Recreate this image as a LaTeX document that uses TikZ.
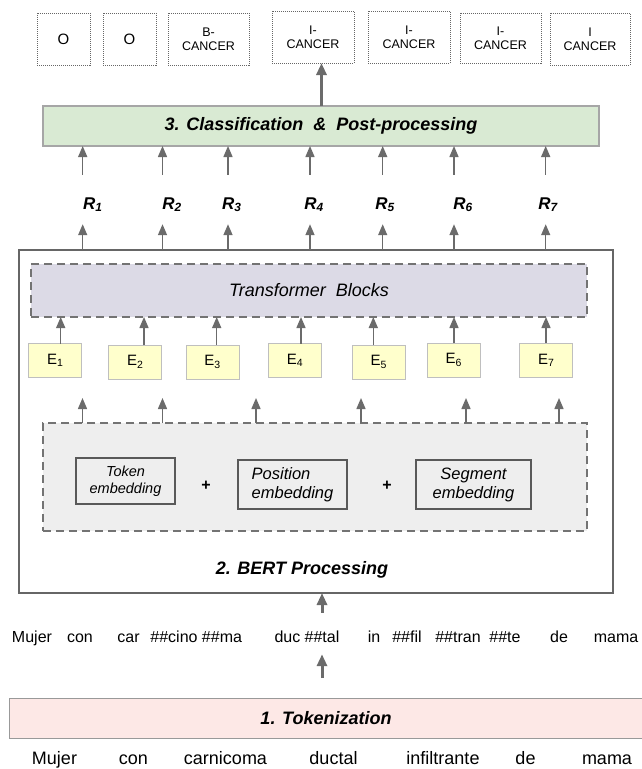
\documentclass[tikz,border=0pt]{standalone}
\usepackage{fontspec}
\setmainfont{Liberation Sans}
\usetikzlibrary{arrows.meta}
\definecolor{clsgreen}{HTML}{D9EAD3}
\definecolor{tfpurple}{HTML}{DCDAE6}
\definecolor{embgray}{HTML}{EEEEEE}
\definecolor{vecyellow}{HTML}{FFFFCC}
\definecolor{tokpink}{HTML}{FDE8E6}
\definecolor{arrgray}{HTML}{6B6B6B}

\begin{document}
\begin{tikzpicture}[x=1pt, y=-1pt,
          tag box/.style={draw=black!60, dash pattern=on 1pt off 1pt, line width=0.8pt, inner sep=0pt, outer sep=0pt, align=center, font=\fontsize{12.5}{14}\selectfont},
          stage box/.style={draw=black!35, line width=1.2pt, inner sep=0pt, outer sep=0pt, font=\fontsize{18}{18}\selectfont\bfseries\itshape},
          dash box/.style={draw=black!55, line width=1.8pt, dash pattern=on 8pt off 5pt, inner sep=0pt, outer sep=0pt},
          emb part/.style={draw=black!65, fill=embgray, line width=1.1pt, inner sep=0pt, outer sep=0pt, font=\itshape},
          evec/.style={draw=black!25, fill=vecyellow, line width=1pt, minimum width=53pt, minimum height=34pt, inner sep=0pt, outer sep=0pt, font=\fontsize{15}{15}\selectfont},
          rlab/.style={font=\fontsize{17}{17}\selectfont\bfseries\itshape, text height=24pt, text depth=4.5pt, inner ysep=10.25pt, inner xsep=0pt},
          tokword/.style={font=\fontsize{16}{16}\selectfont, text height=12pt, text depth=0pt, inner sep=2pt},
          srcword/.style={font=\fontsize{18}{18}\selectfont, text height=13pt, text depth=4pt, inner sep=0pt},
          arr/.style={draw=arrgray, line width=1.5pt, -{Triangle[length=11pt,width=9pt]}},
          big arr/.style={draw=arrgray, line width=3pt, -{Triangle[length=12pt,width=10pt]}}]
          \useasboundingbox (0,0) rectangle (641,769);
          % output tags
          \node[tag box, minimum width=53pt, minimum height=52pt] (o1) at (63.5,39) {\fontsize{15}{15}\selectfont O};
          \node[tag box, minimum width=53pt, minimum height=52pt] (o2) at (129.5,39) {\fontsize{15}{15}\selectfont O};
          \node[tag box, minimum width=81pt, minimum height=52pt] (o3) at (208.5,39) {B-\\CANCER};
          \node[tag box, minimum width=82pt, minimum height=52pt] (o4) at (313,37) {I-\\CANCER};
          \node[tag box, minimum width=82pt, minimum height=52pt] (o5) at (409,37) {I-\\CANCER};
          \node[tag box, minimum width=81pt, minimum height=50pt] (o6) at (500.5,38) {I-\\CANCER};
          \node[tag box, minimum width=80pt, minimum height=52pt] (o7) at (590,39) {I\\CANCER};
          % stage 3
          \node[stage box, fill=clsgreen, minimum width=556pt, minimum height=40pt] (cls) at (321,126) {3. Classification~~\&~~Post-processing};
          \coordinate (mid) at (321.5,0);
          \draw[big arr] (cls.north -| mid) -- (o4.south -| mid);
          % stage 2
          \node[draw=black!60, line width=2.5pt, minimum width=594pt, minimum height=343pt, inner sep=0pt, outer sep=0pt] (bert) at (316,421.5) {};
          \node[font=\fontsize{18}{18}\selectfont\bfseries\itshape] (bertlab) at (302,570) {2. BERT Processing};
          \node[dash box, fill=tfpurple, minimum width=556pt, minimum height=53pt, font=\fontsize{18}{18}\selectfont\itshape] (tb) at (309,290.5) {Transformer~~Blocks};
          \node[dash box, fill=embgray, minimum width=544pt, minimum height=108pt] (emb) at (315,477) {};
          \node[emb part, minimum width=99pt, minimum height=46pt, align=center, font=\fontsize{14.5}{17.3}\selectfont\itshape] (tokemb) at (125.5,481) {Token\\embedding};
          \node[emb part, minimum width=109pt, minimum height=49pt, align=left, font=\fontsize{16.5}{19}\selectfont\itshape] (posemb) at (292.5,484.5) {Position\\embedding};
          \node[emb part, minimum width=115pt, minimum height=49pt, align=center, font=\fontsize{16.5}{19}\selectfont\itshape] (segemb) at (473.5,484.5) {Segment\\embedding};
          \node[font=\fontsize{16}{16}\selectfont\bfseries] (plus1) at (206,486) {+};
          \node[font=\fontsize{16}{16}\selectfont\bfseries] (plus2) at (387,486) {+};
          \foreach \i/\ex/\ey/\ax in {1/55.3/360.5/60.7, 2/135.2/362/144, 3/212.5/362/216.7, 4/295/360.5/301,
                                       5/378.8/362/373.3, 6/453.7/360/454, 7/546.3/360/546}{
              \node[evec] (E\i) at (\ex,\ey) {E\textsubscript{\i}};
              \coordinate (ea\i) at (\ax,0);
              \draw[arr] (E\i.north -| ea\i) -- (tb.south -| ea\i);
          }
          \foreach \x [count=\i] in {82.5,162.5,256,361,466,559}{
              \coordinate (ee\i) at (\x,398);
              \draw[arr] (emb.north -| ee\i) -- (ee\i);
          }
          \foreach \i/\ax/\lx in {1/82.7/92.7, 2/162.5/172, 3/228/231.7, 4/310/314, 5/382.7/385, 6/454/463, 7/545.7/548}{
              \node[rlab] (R\i) at (\lx,199.5) {R\textsubscript{\i}};
              \coordinate (ra\i) at (\ax,0);
              \draw[arr] (bert.north -| ra\i) -- (R\i.south -| ra\i);
              \draw[arr] (R\i.north -| ra\i) -- (cls.south -| ra\i);
          }
          % stage 1
          \foreach \x/\w [count=\i] in {32/Mujer, 80/con, 128.5/car, 174/\#\#cino, 222/\#\#ma, 287.5/duc, 322/\#\#tal,
                                        374/in, 407/\#\#fil, 458/\#\#tran, 505/\#\#te, 559/de, 616/mama}{
              \node[tokword] (w\i) at (\x,636) {\w};
          }
          \node[stage box, draw=black!40, line width=1pt, fill=tokpink, minimum width=634pt, minimum height=40pt] (tok) at (326,718) {1. Tokenization};
          \draw[big arr, shorten <=15pt] (w7.north) -- (bert.south -| w7.north);
          \draw[big arr, shorten <=20pt, shorten >=10pt] (tok.north -| w7.south) -- (w7.south);
          \foreach \x/\w [count=\i] in {54.5/Mujer, 133.5/con, 225.5/carnicoma, 333.5/ductal, 443/infiltrante, 525.5/de, 607/mama}{
              \node[srcword] (s\i) at (\x,760) {\w};
          }
      \end{tikzpicture}
\end{document}
